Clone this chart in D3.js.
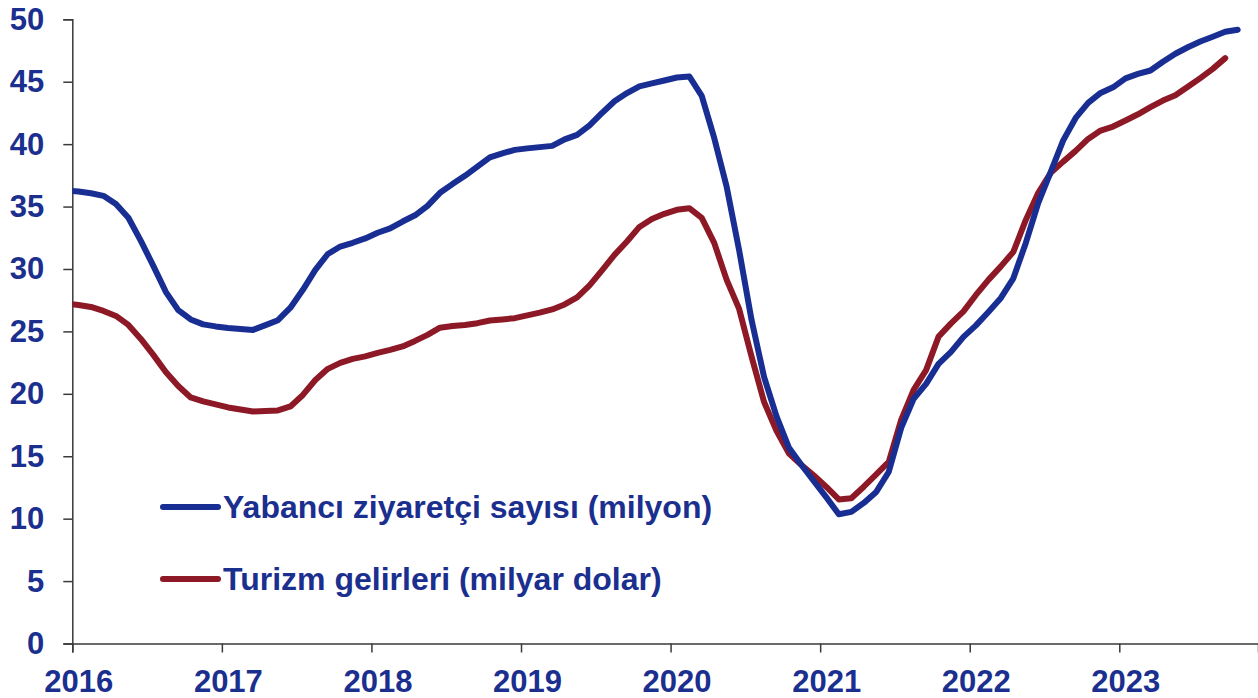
<!DOCTYPE html>
<html>
<head>
<meta charset="utf-8">
<script src="https://cdn.jsdelivr.net/npm/d3@7"></script>
<style>
  html, body { margin: 0; padding: 0; background: #fff; }
  svg { display: block; font-family: Arial, "Liberation Sans", sans-serif; }
</style>
</head>
<body>
<svg id="chart" width="1258" height="698"></svg>
<script>
// Monthly 12-month rolling totals, starting Dec 2015 (index -1)
const firstMonthOffset = -1;          // first value = Dec 2015
const yearTicks = [2016, 2017, 2018, 2019, 2020, 2021, 2022, 2023];
const yTicks = [0, 5, 10, 15, 20, 25, 30, 35, 40, 45, 50];
const seriesNames = ["Yabancı ziyaretçi sayısı (milyon)", "Turizm gelirleri (milyar dolar)"];

const visitors = [
  36.3, 36.2, 36.07, 35.86, 35.2, 34.1, 32.25, 30.25, 28.17, 26.7, 25.96, 25.56, 25.4,
  25.28, 25.2, 25.12, 25.5, 25.9, 26.9, 28.33, 29.93, 31.2, 31.8, 32.1, 32.45,
  32.9, 33.25, 33.8, 34.3, 35.05, 36.1, 36.8, 37.46, 38.2, 38.94, 39.26, 39.54,
  39.66, 39.76, 39.86, 40.38, 40.74, 41.5, 42.5, 43.43, 44.09, 44.63, 44.87, 45.1,
  45.34, 45.42, 43.87, 40.5, 36.58, 31.5, 25.9, 21.35, 18.2, 15.67, 14.3, 13.0, 11.7,
  10.35, 10.54, 11.26, 12.14, 13.74, 17.27, 19.6, 20.8, 22.4, 23.36, 24.56, 25.48,
  26.56, 27.68, 29.25, 32.09, 35.3, 37.78, 40.3, 42.1, 43.3, 44.1, 44.55, 45.27,
  45.63, 45.9, 46.6, 47.24, 47.76, 48.22, 48.6, 49.0, 49.16
];

const revenue = [
  27.24, 27.12, 26.96, 26.64, 26.24, 25.52, 24.4, 23.12, 21.75, 20.63, 19.71, 19.39, 19.15,
  18.91, 18.75, 18.59, 18.63, 18.67, 18.99, 19.91, 21.11, 22.0, 22.48, 22.8, 23.0,
  23.28, 23.52, 23.8, 24.24, 24.72, 25.3, 25.44, 25.52, 25.66, 25.87, 25.96, 26.06,
  26.28, 26.5, 26.76, 27.16, 27.72, 28.69, 29.89, 31.13, 32.2, 33.37, 34.01, 34.42,
  34.74, 34.87, 34.1, 32.09, 29.13, 26.8, 22.96, 19.35, 17.03, 15.22, 14.3, 13.46, 12.54,
  11.54, 11.63, 12.56, 13.54, 14.54, 17.91, 20.31, 21.9, 24.58, 25.64, 26.6, 27.92,
  29.13, 30.21, 31.37, 33.93, 36.1, 37.7, 38.6, 39.46, 40.42, 41.09, 41.41, 41.89,
  42.39, 42.96, 43.49, 43.91, 44.59, 45.29, 46.03, 46.89
];

const colors = { visitors: "#182e92", revenue: "#8e1926", text: "#1b2f8f", axis: "#3a3a3a" };

const svg = d3.select("#chart");
const W = 1258, H = 698;
const plot = { left: 72.3, right: 1258, top: 19.3, bottom: 643.5 };
const pxPerYear = 149.57;

const x = d3.scaleLinear()
  .domain([2016, 2016 + (plot.right - plot.left) / pxPerYear])
  .range([plot.left, plot.right]);
const y = d3.scaleLinear().domain([0, 50]).range([plot.bottom, plot.top]);

const monthPos = i => 2016 + (i + firstMonthOffset + 0.5) / 12;

svg.append("defs").append("clipPath").attr("id", "plotclip")
  .append("rect")
  .attr("x", plot.left).attr("y", 0)
  .attr("width", plot.right - plot.left).attr("height", H);

// Axes
const yAxis = d3.axisLeft(y).tickValues(yTicks).tickSize(9).tickPadding(19).tickFormat(d3.format("d"));
const gy = svg.append("g").attr("transform", `translate(${plot.left},0)`).call(yAxis);
const xAxis = d3.axisBottom(x).tickValues(yearTicks).tickSize(9).tickPadding(17).tickFormat(d3.format("d"));
const gx = svg.append("g").attr("transform", `translate(0,${plot.bottom})`).call(xAxis);

[gy, gx].forEach(g => {
  g.select(".domain").attr("stroke", colors.axis).attr("stroke-width", 1.5);
  g.selectAll(".tick line").attr("stroke", colors.axis).attr("stroke-width", 1.5);
  g.selectAll(".tick text")
    .attr("fill", colors.text)
    .attr("font-size", 31)
    .attr("font-weight", "bold")
    .attr("font-family", "Arial, 'Liberation Sans', sans-serif");
});
gx.selectAll(".tick text").attr("dx", 6);

// Lines
const line = d3.line()
  .x((d, i) => x(monthPos(i)))
  .y(d => y(d));

const gl = svg.append("g").attr("clip-path", "url(#plotclip)");
gl.append("path").datum(revenue)
  .attr("fill", "none").attr("stroke", colors.revenue)
  .attr("stroke-width", 6).attr("stroke-linejoin", "round").attr("stroke-linecap", "round")
  .attr("d", line);
gl.append("path").datum(visitors)
  .attr("fill", "none").attr("stroke", colors.visitors)
  .attr("stroke-width", 6).attr("stroke-linejoin", "round").attr("stroke-linecap", "round")
  .attr("d", line);

// Legend
const legend = svg.append("g").attr("transform", "translate(163,507)");
const legendItems = [
  { name: seriesNames[0], color: colors.visitors },
  { name: seriesNames[1], color: colors.revenue }
];
legendItems.forEach((it, i) => {
  const g = legend.append("g").attr("transform", `translate(0,${i * 72})`);
  g.append("line").attr("x1", 0).attr("x2", 55).attr("y1", 0).attr("y2", 0)
    .attr("stroke", it.color).attr("stroke-width", 6).attr("stroke-linecap", "round");
  g.append("text").attr("x", 60).attr("y", 11)
    .attr("fill", colors.text).attr("font-size", 32).attr("font-weight", "bold")
    .text(it.name);
});
</script>
</body>
</html>
